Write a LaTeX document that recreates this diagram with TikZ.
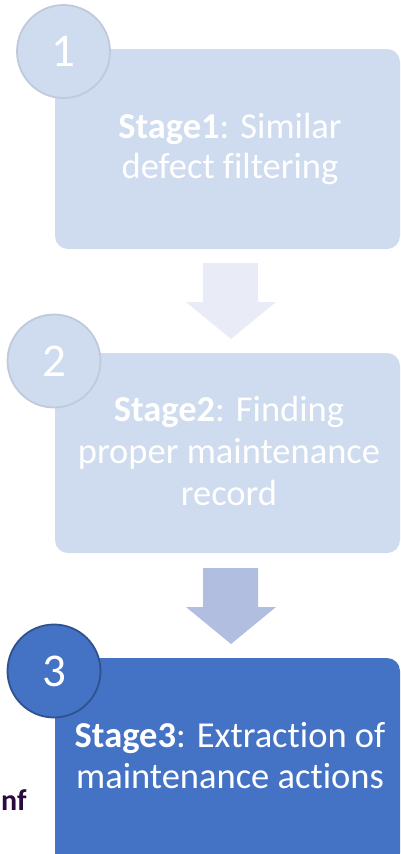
\documentclass[tikz,border=0pt]{standalone}
\usepackage{fontspec}
\setmainfont[Ligatures={NoCommon}]{Carlito}
\definecolor{lightbox}{HTML}{CFDBEE}
\definecolor{lightring}{HTML}{BFCADC}
\definecolor{arrowA}{HTML}{E9ECF6}
\definecolor{arrowB}{HTML}{B1BEE0}
\definecolor{darkbox}{HTML}{4472C4}
\definecolor{darkring}{HTML}{2F528F}
\definecolor{nfcol}{HTML}{2B0A3D}
\tikzset{
  stagebox/.style={rounded corners=13pt},
  numcircle/.style={circle, minimum size=93pt, inner sep=0pt, line width=1.8pt, text=white, font=\fontsize{47}{47}\selectfont},
  stagetext/.style={anchor=base, inner sep=0pt, text=white, font=\fontsize{36.5}{40}\selectfont},
}
\begin{document}
\begin{tikzpicture}[x=1pt,y=-1pt]
\useasboundingbox (0,0) rectangle (401,854);
% boxes
\fill[lightbox, stagebox] (55,49) rectangle (400,249);
\fill[lightbox, stagebox] (55,353) rectangle (400,553);
\fill[darkbox, stagebox] (55,658) rectangle (400,866);
% arrows
\fill[arrowA] (203,263) -- (258,263) -- (258,302) -- (276,302) -- (231,339) -- (186,302) -- (203,302) -- cycle;
\fill[arrowB] (203,568) -- (258,568) -- (258,607) -- (276,607) -- (231,644) -- (186,607) -- (203,607) -- cycle;
% circles
\node[numcircle, fill=lightbox, draw=lightring] (c1) at (63.5,51.5) {1};
\node[numcircle, fill=lightbox, draw=lightring] (c2) at (54,361) {2};
\node[numcircle, fill=darkbox, draw=darkring] (c3) at (54,671) {3};
% texts
\node[stagetext] (t1a) at (230,138) {\textbf{Stage1}: Similar};
\node[stagetext] (t1b) at (230,178) {defect filtering};
\node[stagetext] (t2a) at (229,421) {\textbf{Stage2}: Finding};
\node[stagetext] (t2b) at (229,463) {proper maintenance};
\node[stagetext] (t2c) at (229,505) {record};
\node[stagetext] (t3a) at (230,747) {\textbf{Stage3}: Extraction of};
\node[stagetext] (t3b) at (230,788) {maintenance actions};
\node[anchor=base west, inner sep=0pt, text=nfcol, font=\bfseries\fontsize{30}{30}\selectfont] (nf) at (1,810) {nf};
\end{tikzpicture}
\end{document}
